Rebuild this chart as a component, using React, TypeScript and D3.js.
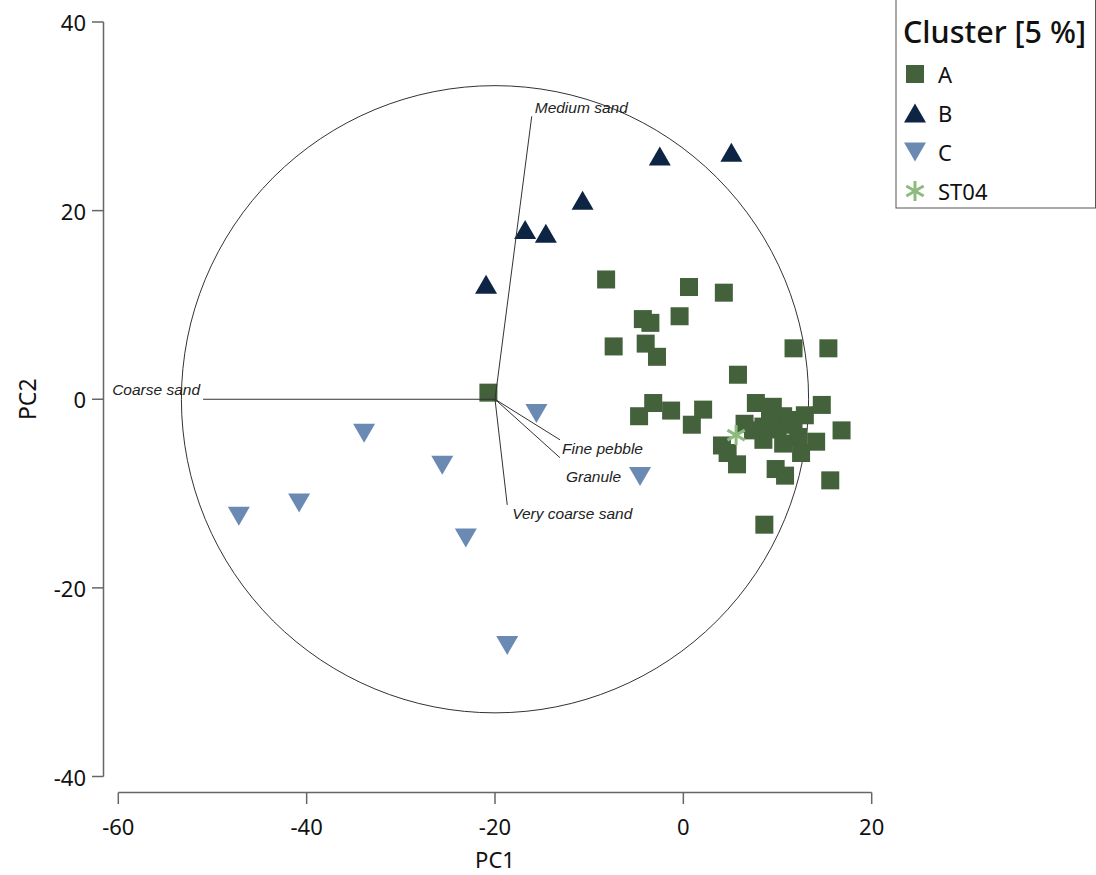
import React from "react";
import * as d3 from "d3";

const clusterA_x = [-20.7, -8.2, 0.6, 4.3, -4.3, -3.5, -0.4, -7.4, -4.0, -2.8, 11.7, 15.4, 5.8, -4.7, -3.2, -1.3, 0.9, 2.1, 14.7, 16.8, 7.7, 9.5, 12.9, 10.6, 6.5, 8.5, 10.0, 11.7, 4.1, 4.7, 5.7, 8.5, 10.6, 12.2, 14.1, 12.5, 9.8, 10.8, 15.6, 8.6, 7.4, 9.2, 11.3];
const clusterA_y = [0.7, 12.7, 11.9, 11.3, 8.5, 8.1, 8.8, 5.6, 5.9, 4.5, 5.4, 5.4, 2.6, -1.8, -0.4, -1.2, -2.7, -1.1, -0.6, -3.3, -0.4, -0.8, -1.7, -1.8, -2.6, -2.9, -3.2, -2.7, -4.9, -5.7, -6.9, -4.3, -4.7, -4.0, -4.5, -5.7, -7.4, -8.1, -8.6, -13.3, -3.3, -1.8, -2.2];
const clusterB_x = [-20.95, -16.8, -14.6, -10.7, -2.5, 5.1];
const clusterB_y = [12.2, 18.0, 17.6, 21.1, 25.8, 26.2];
const clusterC_x = [-15.6, -33.9, -25.6, -47.2, -40.8, -23.1, -18.7, -4.6];
const clusterC_y = [-1.5, -3.6, -7.0, -12.4, -11.0, -14.7, -26.1, -8.2];
const st04 = { x: 5.6, y: -3.8 };

const vectorNames = ["Medium sand", "Coarse sand", "Fine pebble", "Granule", "Very coarse sand"];
const vectorX = [-16.1, -51.0, -13.1, -13.1, -18.7];
const vectorY = [30.0, 0.0, -4.3, -6.2, -11.2];
const origin = { x: -20, y: 0 };
const circleRadius = 33.3;

const xTicks = [-60, -40, -20, 0, 20];
const yTicks = [40, 20, 0, -20, -40];
const legendLabels = ["A", "B", "C", "ST04"];

const colA = "#43613a";
const colB = "#0e2444";
const colC = "#6a8ab4";
const colST = "#8dbb7e";

const font = "'Noto Sans', 'Open Sans', sans-serif";

function TriUp({ cx, cy, fill }: { cx: number; cy: number; fill: string }) {
  const w = 22, h = 19;
  return <path d={`M${cx},${cy - h / 2}L${cx + w / 2},${cy + h / 2}L${cx - w / 2},${cy + h / 2}Z`} fill={fill} />;
}
function TriDown({ cx, cy, fill }: { cx: number; cy: number; fill: string }) {
  const w = 22, h = 19;
  return <path d={`M${cx - w / 2},${cy - h / 2}L${cx + w / 2},${cy - h / 2}L${cx},${cy + h / 2}Z`} fill={fill} />;
}
function Square({ cx, cy, fill }: { cx: number; cy: number; fill: string }) {
  const s = 18;
  return <rect x={cx - s / 2} y={cy - s / 2} width={s} height={s} fill={fill} />;
}
function Star({ cx, cy, color, r = 10 }: { cx: number; cy: number; color: string; r?: number }) {
  const angles = [90, 30, -30];
  return (
    <g stroke={color} strokeWidth={3}>
      {angles.map((a, i) => {
        const rad = (a * Math.PI) / 180;
        const dx = r * Math.cos(rad), dy = r * Math.sin(rad);
        return <line key={i} x1={cx - dx} y1={cy - dy} x2={cx + dx} y2={cy + dy} />;
      })}
    </g>
  );
}

export default function App() {
  const x = d3.scaleLinear().domain([-60, 20]).range([118.3, 871.7]);
  const y = d3.scaleLinear().domain([-40, 40]).range([776.5, 22]);
  const axisColor = "#666";
  const ox = x(origin.x), oy = y(origin.y);
  const rpx = x(origin.x + circleRadius) - x(origin.x);

  const labelOffsets: [number, number, string][] = [
    [3, -9, "start"],
    [-3, -10, "end"],
    [2, 9, "start"],
    [6, 19, "start"],
    [5, 9, "start"],
  ];

  return (
    <svg width={1096} height={875} style={{ position: "absolute", left: 0, top: 0, background: "#fff" }}>
      {/* y axis */}
      <line x1={103.5} x2={103.5} y1={y(40)} y2={y(-40)} stroke={axisColor} strokeWidth={1.5} />
      {yTicks.map((t) => (
        <g key={t}>
          <line x1={92} x2={103.5} y1={y(t)} y2={y(t)} stroke={axisColor} strokeWidth={1.5} />
          <text x={86} y={y(t)} textAnchor="end" dominantBaseline="central" fontSize={22} fontFamily={font} fill="#111">
            {t}
          </text>
        </g>
      ))}
      <text transform={`translate(27,${y(0)}) rotate(-90)`} textAnchor="middle" dominantBaseline="central" fontSize={23} fontFamily={font} fill="#111">
        PC2
      </text>
      {/* x axis */}
      <line x1={x(-60)} x2={x(20)} y1={792.5} y2={792.5} stroke={axisColor} strokeWidth={1.5} />
      {xTicks.map((t) => (
        <g key={t}>
          <line x1={x(t)} x2={x(t)} y1={792.5} y2={804} stroke={axisColor} strokeWidth={1.5} />
          <text x={x(t)} y={826} textAnchor="middle" dominantBaseline="central" fontSize={22} fontFamily={font} fill="#111">
            {t}
          </text>
        </g>
      ))}
      <text x={x(-20)} y={868} textAnchor="middle" fontSize={22} fontFamily={font} fill="#111">
        PC1
      </text>

      {/* correlation circle */}
      <circle cx={ox} cy={oy} r={rpx} fill="none" stroke="#333" strokeWidth={1} />

      {/* points */}
      {clusterA_x.map((v, i) => (
        <Square key={"a" + i} cx={x(v)} cy={y(clusterA_y[i])} fill={colA} />
      ))}
      {clusterB_x.map((v, i) => (
        <TriUp key={"b" + i} cx={x(v)} cy={y(clusterB_y[i])} fill={colB} />
      ))}
      {clusterC_x.map((v, i) => (
        <TriDown key={"c" + i} cx={x(v)} cy={y(clusterC_y[i])} fill={colC} />
      ))}
      <Star cx={x(st04.x)} cy={y(st04.y)} color={colST} />

      {/* vectors */}
      {vectorNames.map((n, i) => {
        const ex = x(vectorX[i]), ey = y(vectorY[i]);
        const [dx, dy, anchor] = labelOffsets[i];
        return (
          <g key={n}>
            <line x1={ox} y1={oy} x2={ex} y2={ey} stroke="#333" strokeWidth={1} />
            <text x={ex + dx} y={ey + dy} textAnchor={anchor} dominantBaseline="central" fontSize={15.5} fontStyle="italic" fontFamily="'Liberation Sans', Arial, sans-serif" fill="#222">
              {n}
            </text>
          </g>
        );
      })}

      {/* legend */}
      <rect x={896} y={-1} width={199.5} height={209} fill="#fff" stroke="#555" strokeWidth={1} />
      <text x={903} y={31} dominantBaseline="central" fontSize={30} fontWeight={500} fontFamily={font} fill="#111" textLength={183} lengthAdjust="spacingAndGlyphs">
        Cluster [5 %]
      </text>
      {legendLabels.map((l, i) => {
        const cy = 74 + i * 39;
        const cx = 915;
        return (
          <g key={l}>
            {i === 0 && <Square cx={cx} cy={cy} fill={colA} />}
            {i === 1 && <TriUp cx={cx} cy={cy} fill={colB} />}
            {i === 2 && <TriDown cx={cx} cy={cy} fill={colC} />}
            {i === 3 && <Star cx={cx} cy={cy} color={colST} />}
            <text x={938} y={cy} dominantBaseline="central" fontSize={22} fontFamily={font} fill="#111">
              {l}
            </text>
          </g>
        );
      })}
    </svg>
  );
}
